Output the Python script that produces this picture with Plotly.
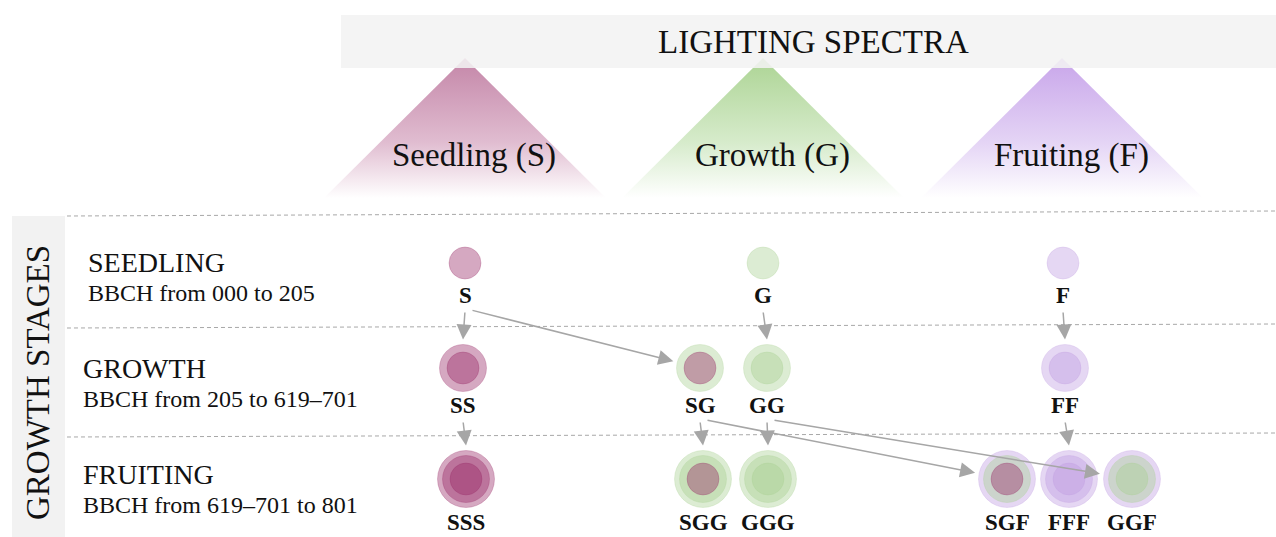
import plotly.graph_objects as go
import math

# ---------------- data ----------------
spectra_names = ["Seedling (S)", "Growth (G)", "Fruiting (F)"]
spectra_codes = ["S", "G", "F"]
stage_names = ["SEEDLING", "GROWTH", "FRUITING"]
stage_bbch = ["BBCH from 000 to 205", "BBCH from 205 to 619\u2013701", "BBCH from 619\u2013701 to 801"]
treatments_stage1 = ["S", "G", "F"]
treatments_stage2 = ["SS", "SG", "GG", "FF"]
treatments_stage3 = ["SSS", "SGG", "GGG", "SGF", "FFF", "GGF"]
transitions = [("S", "SS"), ("S", "SG"), ("G", "GG"), ("F", "FF"),
               ("SS", "SSS"), ("SG", "SGG"), ("SG", "SGF"),
               ("GG", "GGG"), ("GG", "GGF"), ("FF", "FFF")]

# ---------------- styling / layout ----------------
W, H = 1276, 537
FONT = "Liberation Serif"
letter_rgb = {"S": (150, 38, 100), "G": (168, 208, 145), "F": (190, 155, 225)}
letter_alpha = 0.4
tri_top = {"S": "rgb(196,134,168)", "G": "rgb(172,212,148)", "F": "rgb(200,165,234)"}
tri_mid = {"S": "rgb(224,188,208)", "G": "rgb(214,235,203)", "F": "rgb(228,212,245)"}
tri_apex_x = {"S": 465, "G": 763, "F": 1062}
tri_half, tri_top_y, tri_base_y = 141, 58, 198
row_y = [263, 368, 479]
layer_r = [16, 23.5, 28.5]
label_gap = [32, 37, 43]
node_x = {"S": 465, "G": 763, "F": 1063,
          "SS": 463, "SG": 700, "GG": 767, "FF": 1065,
          "SSS": 466, "SGG": 703, "GGG": 768, "SGF": 1007, "FFF": 1069, "GGF": 1132}
row_label_x = [86, 81, 81]
row_label_y = [262, 368, 474]
dash_y = [(216, 211), (328, 324), (437, 433)]
ARROW = "#a6a6a6"

fig = go.Figure()
shapes = []
ann = []

# triangles (spectra) with vertical gradient
for name, code in zip(spectra_names, spectra_codes):
    ax_ = tri_apex_x[code]
    fig.add_trace(go.Scatter(
        x=[ax_ - tri_half, ax_, ax_ + tri_half, ax_ - tri_half],
        y=[tri_base_y, tri_top_y, tri_base_y, tri_base_y],
        mode="lines", line=dict(width=0), fill="toself",
        fillgradient=dict(type="vertical",
                          colorscale=[[0, tri_top[code]], [0.6, tri_mid[code]], [1, "rgb(255,255,255)"]],
                          start=tri_top_y, stop=tri_base_y),
        hoverinfo="skip", showlegend=False))
    ann.append(dict(x=ax_ + 9, y=155, text=name, showarrow=False,
                    font=dict(family=FONT, size=33, color="#111")))

# banner
shapes.append(dict(type="rect", x0=341, x1=W, y0=15, y1=68, fillcolor="#f2f2f2",
                   opacity=0.88, line=dict(width=0), layer="above"))
ann.append(dict(x=813, y=42, text="LIGHTING SPECTRA", showarrow=False,
                font=dict(family=FONT, size=33, color="#111")))

# left band
shapes.append(dict(type="rect", x0=12, x1=65, y0=216, y1=H + 2, fillcolor="#f2f2f2",
                   line=dict(width=0), layer="below"))
ann.append(dict(x=38, y=383, text="GROWTH STAGES", showarrow=False, textangle=-90,
                font=dict(family=FONT, size=33, color="#111")))

# dashed separators
for (y0, y1) in dash_y:
    shapes.append(dict(type="line", x0=67, x1=W, y0=y0, y1=y1,
                       line=dict(color="#a8a8a8", width=1, dash="4px,3px"), layer="below"))

# row labels
for i, (nm, bb) in enumerate(zip(stage_names, stage_bbch)):
    ann.append(dict(x=row_label_x[i], y=row_label_y[i], text=nm, showarrow=False, xanchor="left",
                    font=dict(family=FONT, size=28, color="#111")))
    ann.append(dict(x=row_label_x[i], y=row_label_y[i] + 31, text=bb, showarrow=False, xanchor="left",
                    font=dict(family=FONT, size=24, color="#111")))

# treatment nodes
node_y, node_r, node_ly = {}, {}, {}
for row, codes in enumerate([treatments_stage1, treatments_stage2, treatments_stage3]):
    for code in codes:
        cx, cy = node_x[code], row_y[row]
        n = len(code)
        node_y[code] = cy
        node_r[code] = layer_r[n - 1]
        node_ly[code] = cy + label_gap[n - 1]
        for i in range(n - 1, -1, -1):
            r = layer_r[i]
            rr, gg, bb = letter_rgb[code[i]]
            col = f"rgba({rr},{gg},{bb},{letter_alpha})"
            shapes.append(dict(type="circle", x0=cx - r, x1=cx + r, y0=cy - r, y1=cy + r,
                               fillcolor=col, line=dict(color=f"rgba({rr},{gg},{bb},0.25)", width=1),
                               layer="above"))
        ann.append(dict(x=cx, y=node_ly[code], text=f"<b>{code}</b>", showarrow=False,
                        font=dict(family=FONT, size=23, color="#111")))

# transitions
for a, b in transitions:
    xa, ya = node_x[a], node_ly[a] + 16
    xb, yb = node_x[b], node_y[b]
    if abs(xb - xa) < 20:
        tail = (xa, ya)
        tip = (xb, yb - node_r[b] - 5)
    else:
        tail = (xa + 6, ya - 1)
        dx, dy = xb - tail[0], yb - tail[1]
        d = math.hypot(dx, dy)
        off = node_r[b] + 4
        tip = (xb - dx / d * off, yb - dy / d * off)
    ann.append(dict(x=tip[0], y=tip[1], ax=tail[0], ay=tail[1], xref="x", yref="y",
                    axref="x", ayref="y", text="", showarrow=True, arrowhead=2,
                    arrowsize=2.0, arrowwidth=1.5, arrowcolor=ARROW, standoff=0))

fig.update_layout(
    width=W, height=H, margin=dict(l=0, r=0, t=0, b=0),
    paper_bgcolor="white", plot_bgcolor="white",
    xaxis=dict(range=[0, W], visible=False, fixedrange=True),
    yaxis=dict(range=[H, 0], visible=False, fixedrange=True),
    shapes=shapes, annotations=ann, showlegend=False,
)
fig.write_html("out.html", config={"displayModeBar": False},
               post_script="document.body.style.margin='0px';document.body.style.overflow='hidden';")
